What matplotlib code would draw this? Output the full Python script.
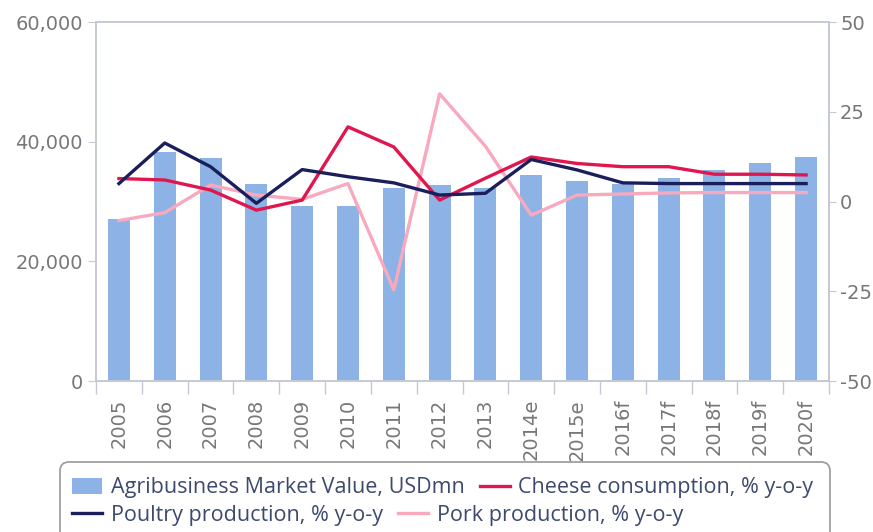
import matplotlib
matplotlib.use("Agg")
import matplotlib.pyplot as plt
from matplotlib.ticker import FuncFormatter, FixedLocator
from matplotlib.patches import FancyBboxPatch
from matplotlib.transforms import IdentityTransform
import numpy as np

plt.rcParams["font.family"] = ["DejaVu Sans"]

categories = ["2005", "2006", "2007", "2008", "2009", "2010", "2011", "2012", "2013",
              "2014e", "2015e", "2016f", "2017f", "2018f", "2019f", "2020f"]
market_value = [27000, 38300, 37200, 33000, 29300, 29300, 32200, 32800, 32200,
                34400, 33400, 33000, 34000, 35300, 36500, 37500]
cheese = [6.4, 6.0, 3.2, -2.4, 0.4, 20.8, 15.2, 0.4, 6.5,
          12.4, 10.6, 9.7, 9.7, 7.6, 7.6, 7.4]
poultry = [5.0, 16.3, 9.7, -0.5, 8.9, 6.9, 5.2, 1.8, 2.3,
           11.7, 8.8, 5.2, 5.0, 5.0, 5.0, 5.0]
pork = [-5.3, -3.1, 4.6, 1.8, 0.6, 5.0, -24.6, 30.0, 15.4,
        -3.8, 1.8, 2.1, 2.4, 2.5, 2.5, 2.5]
left_ticks = [0, 20000, 40000, 60000]
right_ticks = [-50, -25, 0, 25, 50]

bar_color = "#8DB3E6"
cheese_color = "#E0174F"
poultry_color = "#1A1F5C"
pork_color = "#F8A9BE"
spine_color = "#C5C9D6"
tick_color = "#777777"
legend_text = "#3D4A6E"

fig = plt.figure(figsize=(8.73, 5.32), dpi=100)
ax = fig.add_axes([0.110, 0.2838, 0.8396, 0.6748])
x = np.arange(len(categories))
bars = ax.bar(x, market_value, width=0.48, color=bar_color, zorder=2)
ax.set_xlim(-0.5, len(categories) - 0.5)
ax.set_ylim(0, 60000)
ax.yaxis.set_major_locator(FixedLocator(left_ticks))
ax.yaxis.set_major_formatter(FuncFormatter(lambda v, p: f"{int(v):,}"))
ax.set_xticks(x)
ax.set_xticklabels(categories, rotation=90, fontsize=14, color=tick_color)
ax.set_xticks(np.arange(-0.5, len(categories)), minor=True)
ax.tick_params(axis="x", which="major", length=0, pad=13)
ax.tick_params(axis="x", which="minor", length=9, color=spine_color, width=1)
ax.tick_params(axis="y", labelsize=14, labelcolor=tick_color, color=spine_color, length=6)
for s in ax.spines.values():
    s.set_color(spine_color)
    s.set_linewidth(1.2)

ax2 = ax.twinx()
ax2.set_ylim(-50, 50)
ax2.yaxis.set_major_locator(FixedLocator(right_ticks))
ax2.yaxis.set_major_formatter(FuncFormatter(lambda v, p: f"{int(v)}"))
l_cheese, = ax2.plot(x, cheese, color=cheese_color, lw=2.4, zorder=3)
l_poultry, = ax2.plot(x, poultry, color=poultry_color, lw=2.4, zorder=4)
l_pork, = ax2.plot(x, pork, color=pork_color, lw=2.4, zorder=2)
ax2.tick_params(axis="y", labelsize=14, labelcolor=tick_color, color=spine_color,
                length=5, pad=3)
for s in ax2.spines.values():
    s.set_color(spine_color)
    s.set_linewidth(1.2)

# legend frame (rounded box, cut off at bottom like the reference)
frame = FancyBboxPatch((60, -30), 770, 100, boxstyle="round,pad=0,rounding_size=9",
                       transform=IdentityTransform(), facecolor="white",
                       edgecolor="#A0A0A0", linewidth=1.3)
fig.patches.append(frame)

legend_font = {"family": ["Open Sans", "DejaVu Sans"], "size": 15.5}
common = dict(frameon=False, handlelength=1.4, handletextpad=0.4, columnspacing=0.7,
              borderpad=0, borderaxespad=0, labelcolor=legend_text, prop=legend_font)
leg1 = fig.legend([bars, l_cheese],
                  ["Agribusiness Market Value, USDmn", "Cheese consumption, % y-o-y"],
                  ncol=2, loc="center left", bbox_to_anchor=(72 / 873, 1 - 488 / 532), **common)
leg2 = fig.legend([l_poultry, l_pork],
                  ["Poultry production, % y-o-y", "Pork production, % y-o-y"],
                  ncol=2, loc="center left", bbox_to_anchor=(72 / 873, 1 - 515 / 532), **common)

fig.savefig("out.png", dpi=100)
